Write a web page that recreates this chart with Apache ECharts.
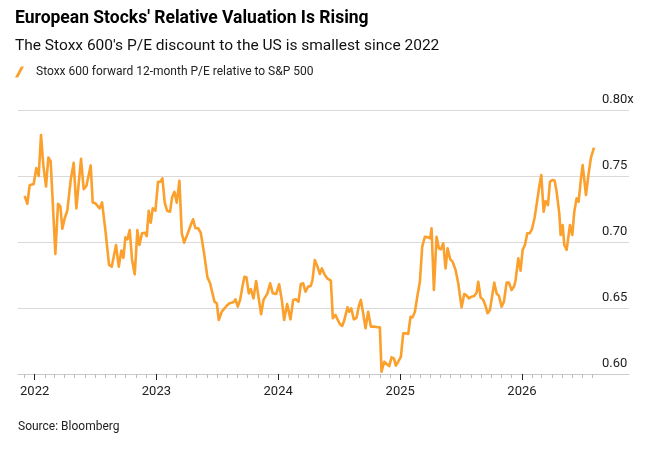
<!DOCTYPE html>
<html>
<head>
<meta charset="utf-8">
<script src="https://cdn.jsdelivr.net/npm/echarts@6/dist/echarts.min.js"></script>
<style>
html,body{margin:0;padding:0;background:#fff;}
#chart{width:647px;height:449px;}
</style>
</head>
<body>
<div id="chart"></div>
<script>
var seriesName = "Stoxx 600 forward 12-month P/E relative to S&P 500";
var dates = [
"2021-12-02","2021-12-10","2021-12-17","2021-12-22","2021-12-29",
"2022-01-06","2022-01-13","2022-01-20","2022-01-27","2022-02-04","2022-02-11","2022-02-18",
"2022-03-04","2022-03-12","2022-03-19","2022-03-25","2022-04-01","2022-04-09","2022-04-19","2022-04-28",
"2022-05-06","2022-05-20","2022-05-28","2022-06-05","2022-06-18","2022-06-24","2022-07-02","2022-07-15",
"2022-07-22","2022-08-01","2022-08-12","2022-08-20","2022-09-02","2022-09-10","2022-09-18","2022-09-24",
"2022-09-30","2022-10-06","2022-10-13","2022-10-20","2022-10-28","2022-11-05","2022-11-11","2022-11-19",
"2022-11-28","2022-12-03","2022-12-09","2022-12-15","2022-12-21","2022-12-29",
"2023-01-06","2023-01-13","2023-01-19","2023-01-26","2023-02-02","2023-02-11","2023-02-17","2023-02-24",
"2023-03-03","2023-03-11","2023-03-18","2023-03-25","2023-04-02","2023-04-14","2023-04-21","2023-04-28",
"2023-05-06","2023-05-14","2023-05-24","2023-06-03","2023-06-11","2023-06-24","2023-07-01","2023-07-07",
"2023-07-16","2023-07-30","2023-08-08","2023-08-15","2023-08-22","2023-08-26","2023-09-02","2023-09-09",
"2023-09-16","2023-09-22","2023-09-28","2023-10-05","2023-10-11","2023-10-19","2023-10-27","2023-11-03",
"2023-11-11","2023-11-18","2023-11-30","2023-12-08","2023-12-16","2023-12-26",
"2024-01-04","2024-01-12","2024-01-19","2024-01-28","2024-02-07","2024-02-15","2024-02-23","2024-03-02",
"2024-03-09","2024-03-16","2024-03-23","2024-03-31","2024-04-08","2024-04-13","2024-04-20","2024-04-28",
"2024-05-05","2024-05-11","2024-05-20","2024-05-27","2024-06-01","2024-06-07","2024-06-13","2024-06-21",
"2024-06-27","2024-07-04","2024-07-11","2024-07-17","2024-07-22","2024-07-27","2024-08-01","2024-08-07",
"2024-08-15","2024-08-23","2024-08-30","2024-09-05","2024-09-12","2024-09-19","2024-09-27","2024-10-05",
"2024-10-15","2024-10-25","2024-11-01","2024-11-06","2024-11-14","2024-11-21","2024-11-29","2024-12-06",
"2024-12-13","2024-12-19","2024-12-26",
"2025-01-03","2025-01-10","2025-01-17","2025-01-25","2025-02-01","2025-02-07","2025-02-14","2025-02-22",
"2025-03-01","2025-03-08","2025-03-16","2025-03-26","2025-04-01","2025-04-05","2025-04-12","2025-04-20",
"2025-04-27","2025-05-03","2025-05-10","2025-05-17","2025-05-23","2025-05-31","2025-06-07","2025-06-16",
"2025-06-24","2025-07-04","2025-07-12","2025-07-18","2025-07-26","2025-08-03","2025-08-11","2025-08-18",
"2025-08-23","2025-08-30","2025-09-07","2025-09-14","2025-09-20","2025-09-27","2025-10-10","2025-10-17",
"2025-10-24","2025-11-01","2025-11-08","2025-11-16","2025-11-23","2025-12-01","2025-12-09","2025-12-13",
"2025-12-21","2025-12-28",
"2026-01-03","2026-01-10","2026-01-17","2026-01-24","2026-01-31","2026-02-08","2026-02-16","2026-02-22",
"2026-02-28","2026-03-07","2026-03-13","2026-03-20","2026-03-26","2026-04-02","2026-04-09","2026-04-15",
"2026-04-23","2026-04-27","2026-05-03","2026-05-08","2026-05-15","2026-05-25","2026-06-01","2026-06-07",
"2026-06-14","2026-06-20","2026-06-27","2026-07-02","2026-07-12","2026-07-20","2026-07-27","2026-08-05"
];
var values = [
0.735,0.729,0.743,0.742,0.744,
0.756,0.750,0.781,0.758,0.742,0.764,0.761,
0.691,0.729,0.727,0.710,0.718,0.724,0.747,0.760,
0.7255,0.763,0.740,0.7424,0.758,0.730,0.7293,0.7255,
0.730,0.709,0.6826,0.6813,0.6977,0.6813,0.6935,0.688,
0.7035,0.702,0.709,0.6864,0.6755,0.709,0.6977,0.7066,
0.707,0.7045,0.7237,0.7146,0.7255,0.7237,
0.7457,0.7457,0.7482,0.7298,0.7237,0.723,0.7338,0.738,
0.7298,0.7464,0.7066,0.6995,0.7045,0.7129,0.7172,0.7104,
0.7104,0.707,0.6914,0.6732,0.6687,0.6548,0.6536,0.6409,
0.6472,0.6515,0.6536,0.654,0.6548,0.6566,0.651,0.6561,
0.6662,0.6737,0.6733,0.6611,0.6644,0.6573,0.6705,0.6586,
0.6452,0.6561,0.6611,0.6687,0.6611,0.6606,
0.668,0.6561,0.6409,0.653,0.6414,0.6561,0.6566,0.6548,
0.6682,0.6687,0.6624,0.6662,0.6667,0.6712,0.6864,0.6813,
0.6758,0.680,0.675,0.6725,0.6717,0.6707,0.6422,0.6447,
0.6414,0.6379,0.6364,0.6404,0.6396,0.6505,0.6472,0.6497,
0.6414,0.6426,0.6515,0.6561,0.646,0.6346,0.6472,0.6359,
0.6359,0.6354,0.6354,0.6018,0.6093,0.6076,0.606,0.6126,
0.6118,0.6063,0.6093,
0.613,0.6308,0.6308,0.6303,0.6434,0.6429,0.6472,0.6598,
0.6699,0.6965,0.704,0.7035,0.7028,0.7104,0.6636,0.704,
0.6952,0.6944,0.699,0.680,0.6952,0.6869,0.6851,0.6788,
0.6687,0.6505,0.6606,0.6598,0.6573,0.6586,0.6591,0.6616,
0.6699,0.6581,0.6561,0.6515,0.646,0.6485,0.6692,0.6611,
0.6591,0.651,0.6548,0.6692,0.6692,0.6636,0.6667,0.6712,
0.6876,0.6783,
0.694,0.6977,0.7066,0.7066,0.7096,0.7184,0.7318,0.742,
0.7508,0.723,0.731,0.728,0.7457,0.747,0.7465,0.738,
0.7217,0.7053,0.7129,0.6977,0.694,0.7129,0.7053,0.723,
0.7331,0.7305,0.7482,0.7583,0.7356,0.752,0.7639,0.7715
];
var yTicks = [0.60, 0.65, 0.70, 0.75, 0.80];
var yearTicks = ["2022", "2023", "2024", "2025", "2026"];
var monthTickStart = "2021-12", monthTickEnd = "2026-08";
var xMin = "2021-11-12", xMax = "2026-11-18";

function ts(s) { var p = s.split('-'); return Date.UTC(+p[0], +p[1] - 1, +(p[2] || 1)); }
var yearTickValues = yearTicks.map(function (y) { return Date.UTC(+y, 0, 1); });
var monthTickValues = [];
(function () {
  var y = +monthTickStart.slice(0, 4), m = +monthTickStart.slice(5, 7) - 1;
  var ey = +monthTickEnd.slice(0, 4), em = +monthTickEnd.slice(5, 7) - 1;
  while (y < ey || (y === ey && m <= em)) {
    monthTickValues.push(Date.UTC(y, m, 1));
    m++; if (m > 11) { m = 0; y++; }
  }
})();

var FONT = "Roboto, 'Liberation Sans', Arial, sans-serif";
var chart = echarts.init(document.getElementById('chart'), null, {renderer: 'canvas'});
var pts = dates.map(function (d, i) { return [ts(d), values[i]]; });
var option = {
  backgroundColor: '#ffffff',
  animation: false,
  title: [
    {text: "European Stocks' Relative Valuation Is Rising", left: 15, top: 10, padding: 0,
     textStyle: {fontFamily: FONT, fontSize: 17.5, fontWeight: 'bold', color: '#000'}},
    {text: "The Stoxx 600's P/E discount to the US is smallest since 2022", left: 15, top: 38, padding: 0,
     textStyle: {fontFamily: FONT, fontSize: 15.5, fontWeight: 'normal', color: '#111'}},
    {text: "Source: Bloomberg", left: 18, top: 421, padding: 0,
     textStyle: {fontFamily: FONT, fontSize: 12, fontWeight: 'normal', color: '#222'}}
  ],
  legend: {
    left: 15, top: 66, padding: 0, itemWidth: 9, itemHeight: 12, itemGap: 10,
    icon: 'path://M0,12 L3.5,12 L10,0 L6.5,0 Z',
    textStyle: {fontFamily: FONT, fontSize: 12, color: '#222', padding: [0,0,0,7]},
    data: [seriesName]
  },
  grid: {left: 18, right: 18, top: 110, bottom: 75, containLabel: false},
  xAxis: [
    {type: 'value', min: ts(xMin), max: ts(xMax), scale: true,
     axisLine: {show: true, lineStyle: {color: '#cccccc', width: 1}},
     axisTick: {show: true, length: 4, customValues: monthTickValues, lineStyle: {color: '#bbbbbb'}},
     axisLabel: {show: false}, splitLine: {show: false}},
    {type: 'value', min: ts(xMin), max: ts(xMax), scale: true, position: 'bottom',
     axisLine: {show: false},
     axisTick: {show: true, length: 6, customValues: yearTickValues, lineStyle: {color: '#222'}},
     axisLabel: {show: true, margin: 11, fontFamily: FONT, fontSize: 13, color: '#222',
       customValues: yearTickValues,
       formatter: function (v) { return String(new Date(v).getUTCFullYear()); }},
     splitLine: {show: false}}
  ],
  yAxis: {
    type: 'value', position: 'right', min: 0.6, max: 0.8, interval: 0.05,
    axisLine: {show: false}, axisTick: {show: false},
    splitLine: {show: true, lineStyle: {color: '#d9d9d9', width: 1}},
    axisLabel: {inside: true, align: 'left', verticalAlign: 'bottom', margin: 27, padding: [0,0,4,0],
      fontFamily: FONT, fontSize: 13, color: '#222',
      formatter: function (v) {
        var s = v.toFixed(2);
        return Math.abs(v - yTicks[yTicks.length - 1]) < 1e-9 ? s + 'x' : s;
      }}
  },
  series: [{
    name: seriesName, type: 'line', xAxisIndex: 0, data: pts, showSymbol: false,
    color: '#FBA02C', lineStyle: {width: 2.6, color: '#FBA02C', join: 'round'}
  }]
};
chart.setOption(option);
</script>
</body>
</html>
